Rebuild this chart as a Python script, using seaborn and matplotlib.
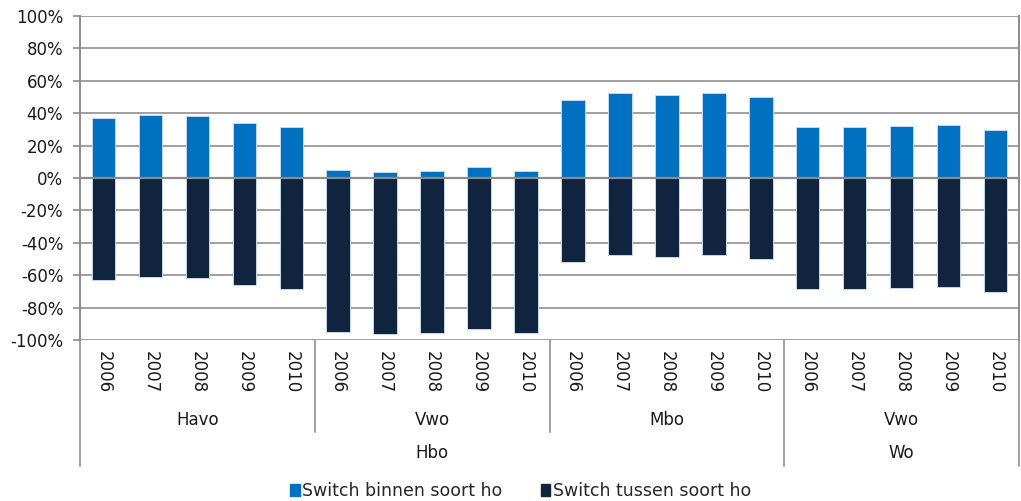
import matplotlib
matplotlib.use("Agg")
import matplotlib.pyplot as plt
import matplotlib.patches as mpatches
from matplotlib.lines import Line2D
import seaborn as sns
import pandas as pd

sns.set_theme(style="white")
plt.rcParams["font.family"] = ["DejaVu Sans"]

years = ["2006", "2007", "2008", "2009", "2010"]
vooropleiding = ["Havo", "Vwo", "Mbo", "Vwo"]
soort_ho = ["Hbo", "Wo"]
soort_ho_span = [3, 1]  # number of vooropleiding groups under each soort ho

binnen_havo_hbo = [37.3, 38.9, 38.5, 34.2, 31.5]
binnen_vwo_hbo = [4.8, 3.9, 4.1, 6.8, 4.5]
binnen_mbo_hbo = [48.1, 52.3, 51.2, 52.7, 49.8]
binnen_vwo_wo = [31.3, 31.5, 32.3, 32.5, 29.4]

tussen_havo_hbo = [-62.7, -61.1, -61.5, -65.8, -68.5]
tussen_vwo_hbo = [-95.2, -96.1, -95.9, -93.2, -95.5]
tussen_mbo_hbo = [-51.9, -47.7, -48.8, -47.3, -50.2]
tussen_vwo_wo = [-68.7, -68.5, -67.7, -67.3, -70.6]

binnen = binnen_havo_hbo + binnen_vwo_hbo + binnen_mbo_hbo + binnen_vwo_wo
tussen = tussen_havo_hbo + tussen_vwo_hbo + tussen_mbo_hbo + tussen_vwo_wo

label_binnen = "Switch binnen soort ho"
label_tussen = "Switch tussen soort ho"
col_binnen = "#0070C0"
col_tussen = "#10243F"

slots = [f"{g}{i} {y}" for i, g in enumerate(vooropleiding) for y in years]
df = pd.DataFrame({"slot": slots, "binnen": binnen, "tussen": tussen})

fig = plt.figure(figsize=(10.21, 5.01), dpi=100)
W, H = 1021, 501
x0, x1, y_top, y_bot = 80, 1019, 16, 340
ax = fig.add_axes([x0 / W, 1 - y_bot / H, (x1 - x0) / W, (y_bot - y_top) / H])

fs = 12
txt_col = "#1a1a1a"
grid_col = "#a0a0a0"
for v in range(-100, 101, 20):
    ax.axhline(v, color=grid_col, lw=1.4, zorder=0)

sns.barplot(data=df, x="slot", y="binnen", order=slots, color=col_binnen,
            width=0.5, saturation=1, edgecolor="#c5d9f1", linewidth=0.7,
            ax=ax, zorder=2)
sns.barplot(data=df, x="slot", y="tussen", order=slots, color=col_tussen,
            width=0.5, saturation=1, edgecolor="#c5d9f1", linewidth=0.7,
            ax=ax, zorder=2)
ax.axhline(0, color="#8c8c8c", lw=1.6, zorder=3)

n = len(slots)
ax.set_xlim(-0.5, n - 0.5)
ax.set_ylim(-100, 100)
ax.set_yticks(range(-100, 101, 20))
ax.set_yticklabels([f"{v}%" for v in range(-100, 101, 20)], fontsize=fs, color=txt_col)
ax.set_xticks(range(n))
ax.set_xticklabels([s.split(" ")[1] for s in slots], rotation=-90,
                   fontsize=fs, color=txt_col)
ax.tick_params(axis="x", length=0, pad=8)
ax.tick_params(axis="y", length=5, color="#8c8c8c", width=1.2, left=True, pad=7)
ax.set_xlabel("")
ax.set_ylabel("")

for side in ["top", "bottom"]:
    ax.spines[side].set_visible(False)
for side in ["left", "right"]:
    ax.spines[side].set_visible(True)
    ax.spines[side].set_color("#8c8c8c")
    ax.spines[side].set_linewidth(1.4)

trans = ax.get_xaxis_transform()
sep_col = "#a0a0a0"
row1_end = -(432 - y_bot) / (y_bot - y_top)
row2_end = -(466 - y_bot) / (y_bot - y_top)
row1_lab = -(420 - y_bot) / (y_bot - y_top)
row2_lab = -(453 - y_bot) / (y_bot - y_top)

ng = len(years)
for i, g in enumerate(vooropleiding):
    ax.text(i * ng + (ng - 1) / 2, row1_lab, g, transform=trans, ha="center",
            va="center", fontsize=fs, color=txt_col)

start = 0
boundaries = {0}
for name, span in zip(soort_ho, soort_ho_span):
    end = start + span * ng
    ax.text((start + end - 1) / 2, row2_lab, name, transform=trans, ha="center",
            va="center", fontsize=fs, color=txt_col)
    boundaries.add(end)
    start = end

for k in range(len(vooropleiding) + 1):
    xb = k * ng - 0.5
    y_end = row2_end if (k * ng) in boundaries else row1_end
    ax.add_line(Line2D([xb, xb], [0, y_end], transform=trans, color=sep_col,
                       lw=1.4, clip_on=False))

handles = [mpatches.Patch(color=col_binnen, label=label_binnen),
           mpatches.Patch(color=col_tussen, label=label_tussen)]
fig.legend(handles=handles, loc="lower center", bbox_to_anchor=(0.51, -0.03),
           ncol=2, frameon=False, fontsize=12.5, handlelength=0.55,
           handleheight=0.7, handletextpad=0.15, columnspacing=2.2)

fig.savefig("out.png", dpi=100)
